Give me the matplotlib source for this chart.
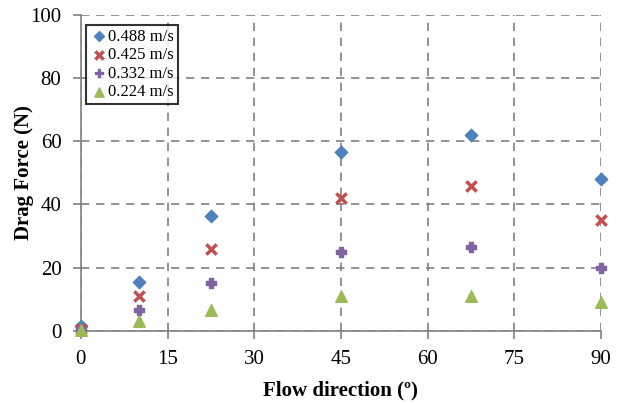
import matplotlib
matplotlib.use("Agg")
import matplotlib.pyplot as plt

plt.rcParams["font.family"] = ["Liberation Serif", "DejaVu Serif"]

# dados
angulos = [0, 10, 22.5, 45, 67.5, 90]
v0488 = [1.5, 15.5, 36.5, 56.5, 62.0, 48.0]
v0425 = [0.5, 11.0, 26.0, 42.0, 46.0, 35.0]
v0332 = [0.5, 6.5, 15.0, 25.0, 26.5, 20.0]
v0224 = [0.3, 3.0, 6.5, 11.0, 11.0, 9.0]
rotulos = ["0.488 m/s", "0.425 m/s", "0.332 m/s", "0.224 m/s"]

fig = plt.figure(figsize=(6.22, 4.03), dpi=100)
ax = fig.add_axes([0.130, 0.179, 0.836, 0.784])

ax.scatter(angulos, v0488, marker="D", s=40, color="#4F81BD", label=rotulos[0], zorder=3, clip_on=False)
ax.scatter(angulos, v0425, marker="x", s=55, color="#C0504D", linewidths=2.5, label=rotulos[1], zorder=3, clip_on=False)
ax.scatter(angulos, v0332, marker="P", s=45, color="#8064A2", label=rotulos[2], zorder=3, clip_on=False)
ax.scatter(angulos, v0224, marker="^", s=70, color="#9BBB59", label=rotulos[3], zorder=3, clip_on=False)

ax.set_xlim(0, 90)
ax.set_ylim(0, 100)
ax.set_xticks(range(0, 91, 15))
ax.set_yticks(range(0, 101, 20))
ax.grid(color="#808080", linestyle=(0, (5, 4)), linewidth=1.2)
ax.set_axisbelow(True)

ax.spines["top"].set_visible(False)
ax.spines["right"].set_visible(False)
ax.spines["left"].set_color("#808080")
ax.spines["bottom"].set_color("#808080")
ax.spines["left"].set_linewidth(1.2)
ax.spines["bottom"].set_linewidth(1.2)
ax.tick_params(axis="both", direction="out", length=6, width=1.2, color="#808080", labelsize=15)
ax.tick_params(axis="x", pad=8)
ax.tick_params(axis="y", pad=8)

ax.set_xlabel("Flow direction (º)", fontsize=15, fontweight="bold", labelpad=8)
ax.set_ylabel("Drag Force (N)", fontsize=15, fontweight="bold", labelpad=-3)

leg = ax.legend(loc="upper left", bbox_to_anchor=(0.0, 0.985), fontsize=12, frameon=True,
                fancybox=False, edgecolor="black", handletextpad=0.0, handlelength=1.1,
                borderpad=0.25, labelspacing=0.15, borderaxespad=0.3, markerscale=0.8)
leg.get_frame().set_linewidth(1.5)

fig.savefig("out.png", dpi=100)
